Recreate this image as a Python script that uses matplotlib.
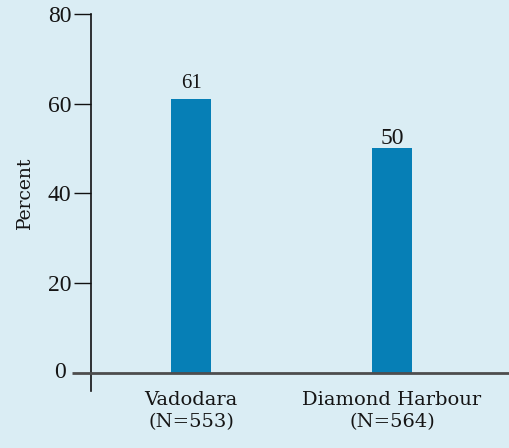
import matplotlib
matplotlib.use("Agg")
import matplotlib.pyplot as plt
import matplotlib.transforms as mtransforms

categories = ["Vadodara\n(N=553)", "Diamond Harbour\n(N=564)"]
values = [61, 50]
value_labels = ["61", "50"]
yticks = [20, 40, 60, 80]

bg = "#daedf4"
bar_color = "#067fb6"
txt = "#151515"
num_font = ["Liberation Serif", "DejaVu Serif"]
word_font = ["DejaVu Serif"]

plt.rcParams['font.family'] = word_font

W, H = 510, 448
fig = plt.figure(figsize=(W / 100, H / 100), dpi=100, facecolor=bg)
left, right, top, bottom = 91, 510, 14, 390.6
ax = fig.add_axes([left / W, 1 - bottom / H, (right - left) / W, (bottom - top) / H])
ax.set_facecolor(bg)

x = list(range(len(categories)))
ax.bar(x, values, width=0.199, color=bar_color, zorder=2)
label_sizes = [15, 17]
label_gaps = [2.4, 0.9]
for xi, v, lab, fs, g in zip(x, values, value_labels, label_sizes, label_gaps):
    ax.text(xi, v + g, lab, ha="center", va="baseline", fontsize=fs,
            color=txt, family=num_font)

ax.set_xlim(-0.4975, 1.587)
ax.set_ylim(-4, 80)

for s in ["top", "right", "bottom"]:
    ax.spines[s].set_visible(False)
ax.spines["left"].set_color("#111111")
ax.spines["left"].set_linewidth(1.2)

ax.set_yticks(yticks)
ax.set_yticklabels([str(t) for t in yticks], family=num_font)
ax.tick_params(axis="y", length=12.2, width=1.0, color="#111111", pad=2,
               labelsize=17, labelcolor=txt)

# x axis line at zero extending to left
trans = mtransforms.blended_transform_factory(fig.transFigure, ax.transData)
ax.plot([72 / W, 1.0], [0, 0], transform=trans, color="#4d4d4d", lw=2.0,
        clip_on=False, zorder=3, solid_capstyle="butt")
ax.text(66 / W, 0, "0", transform=trans, ha="right", va="center",
        fontsize=17, color=txt, family=num_font)

ax.set_xticks(x)
ax.set_xticklabels(categories, fontsize=14, color=txt, linespacing=1.3)
ax.tick_params(axis="x", length=0, pad=0)

fig.text(25 / W, 1 - 193 / H, "Percent", rotation=90, ha="center", va="center",
         fontsize=13.5, color=txt)

fig.savefig("out.png", dpi=100, facecolor=bg)
